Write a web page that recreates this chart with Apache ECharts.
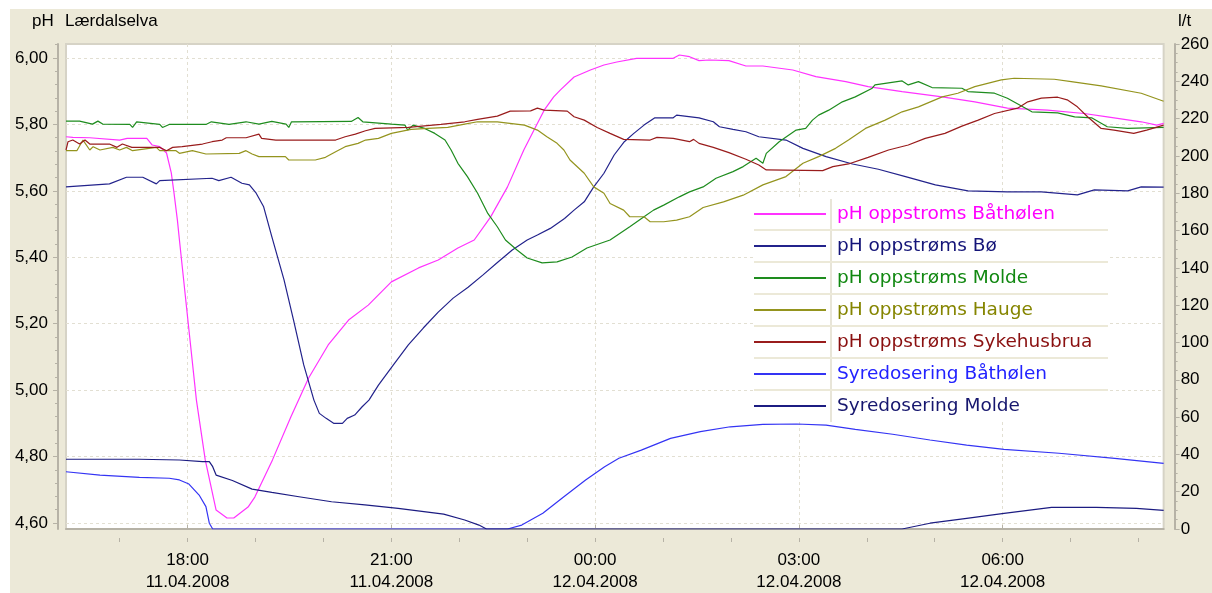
<!DOCTYPE html>
<html>
<head>
<meta charset="utf-8">
<script src="https://cdn.jsdelivr.net/npm/echarts@6/dist/echarts.min.js"></script>
<style>
html, body { margin: 0; padding: 0; background: #fff; }
#main { width: 1212px; height: 593px; }
</style>
</head>
<body>
<div id="main"></div>
<script>
var chart = echarts.init(document.getElementById('main'));

// time in hours from 11.04.2008 00:00
var xMin = 16.21
var xMax = 32.37
var xLabelHours = [18, 21, 24, 27, 30]
var xLabelTexts = ['18:00\n11.04.2008', '21:00\n11.04.2008', '00:00\n12.04.2008', '03:00\n12.04.2008', '06:00\n12.04.2008']
var xHourTicks = [17, 18, 19, 20, 21, 22, 23, 24, 25, 26, 27, 28, 29, 30, 31, 32]

var phTicks = [4.6, 4.8, 5.0, 5.2, 5.4, 5.6, 5.8, 6.0]
var flowMax = 260

var names = ['pH oppstroms Båthølen', 'pH oppstrøms Bø', 'pH oppstrøms Molde', 'pH oppstrøms Hauge',
    'pH oppstrøms Sykehusbrua', 'Syredosering Båthølen', 'Syredosering Molde']
var lineColors = ['#ff33ff', '#23238c', '#1e8c1e', '#94941e', '#991c1c', '#3434f4', '#1c1c82']
var textColors = ['#ff00ff', '#141478', '#118811', '#858500', '#8a1010', '#2222ff', '#16166e']

var phBatholen = [
    [16.21, 5.763], [16.31, 5.761], [16.56, 5.760], [17.0, 5.753], [17.11, 5.758], [17.40, 5.758],
    [17.48, 5.738], [17.59, 5.733], [17.69, 5.714], [17.76, 5.654], [17.80, 5.594], [17.85, 5.512],
    [17.88, 5.452], [18.02, 5.181], [18.13, 4.970], [18.26, 4.790], [18.42, 4.639], [18.58, 4.615],
    [18.68, 4.615], [18.89, 4.648], [18.99, 4.678], [19.25, 4.790], [19.52, 4.919], [19.78, 5.036],
    [20.07, 5.136], [20.37, 5.211], [20.66, 5.256], [21.0, 5.326], [21.40, 5.368], [21.69, 5.392],
    [21.98, 5.428], [22.22, 5.452], [22.46, 5.521], [22.71, 5.612], [22.95, 5.723], [23.10, 5.783],
    [23.25, 5.843], [23.39, 5.883], [23.49, 5.904], [23.69, 5.943], [23.93, 5.964], [24.13, 5.979],
    [24.32, 5.988], [24.61, 5.999], [25.15, 5.999], [25.24, 6.009], [25.39, 6.004], [25.53, 5.992],
    [25.68, 5.994], [25.97, 5.992], [26.22, 5.976], [26.47, 5.976], [26.91, 5.964], [27.25, 5.944],
    [27.69, 5.929], [28.02, 5.914], [28.52, 5.899], [29.11, 5.883], [29.59, 5.868], [30.07, 5.849],
    [30.66, 5.843], [31.20, 5.833], [31.54, 5.823], [32.04, 5.808], [32.27, 5.798], [32.37, 5.803]
]

var phBo = [
    [16.21, 5.612], [16.85, 5.621], [17.10, 5.641], [17.34, 5.641], [17.54, 5.621], [17.59, 5.631],
    [18.36, 5.638], [18.46, 5.631], [18.64, 5.641], [18.80, 5.623], [18.91, 5.618], [19.01, 5.593],
    [19.12, 5.552], [19.24, 5.462], [19.42, 5.332], [19.56, 5.211], [19.71, 5.076], [19.86, 4.970],
    [19.94, 4.930], [20.04, 4.915], [20.15, 4.900], [20.28, 4.900], [20.35, 4.915], [20.46, 4.925],
    [20.57, 4.950], [20.67, 4.970], [20.81, 5.015], [21.03, 5.076], [21.25, 5.136], [21.47, 5.187],
    [21.69, 5.235], [21.91, 5.277], [22.13, 5.310], [22.35, 5.347], [22.57, 5.386], [22.78, 5.422],
    [23.0, 5.452], [23.15, 5.467], [23.34, 5.487], [23.55, 5.517], [23.69, 5.542], [23.84, 5.567],
    [23.98, 5.612], [24.13, 5.653], [24.28, 5.708], [24.43, 5.748], [24.57, 5.773], [24.72, 5.798],
    [24.88, 5.820], [25.15, 5.820], [25.20, 5.828], [25.53, 5.820], [25.74, 5.808], [25.83, 5.793],
    [26.03, 5.785], [26.22, 5.778], [26.41, 5.763], [26.81, 5.753], [27.06, 5.728], [27.40, 5.703],
    [27.79, 5.681], [28.17, 5.665], [28.57, 5.643], [29.01, 5.618], [29.49, 5.600], [30.07, 5.597],
    [30.57, 5.597], [31.10, 5.588], [31.35, 5.603], [31.84, 5.600], [32.04, 5.612], [32.37, 5.611]
]

var phMolde = [
    [16.21, 5.810], [16.41, 5.810], [16.60, 5.801], [16.68, 5.810], [16.75, 5.801], [17.15, 5.800],
    [17.19, 5.791], [17.25, 5.808], [17.59, 5.800], [17.63, 5.791], [17.73, 5.800], [18.27, 5.800],
    [18.35, 5.808], [18.61, 5.800], [18.86, 5.808], [19.05, 5.801], [19.24, 5.809], [19.45, 5.801],
    [19.49, 5.791], [19.53, 5.808], [20.41, 5.809], [20.51, 5.821], [20.58, 5.808], [21.0, 5.801],
    [21.20, 5.798], [21.24, 5.783], [21.32, 5.798], [21.49, 5.788], [21.64, 5.773], [21.79, 5.753],
    [21.88, 5.723], [21.98, 5.683], [22.12, 5.643], [22.27, 5.593], [22.42, 5.532], [22.56, 5.492],
    [22.68, 5.452], [22.85, 5.422], [23.0, 5.398], [23.22, 5.383], [23.44, 5.386], [23.66, 5.401],
    [23.88, 5.428], [24.22, 5.452], [24.51, 5.492], [24.72, 5.522], [24.86, 5.542], [25.01, 5.557],
    [25.24, 5.582], [25.39, 5.597], [25.59, 5.612], [25.78, 5.638], [26.03, 5.658], [26.18, 5.673],
    [26.37, 5.698], [26.47, 5.683], [26.52, 5.713], [26.71, 5.748], [26.96, 5.783], [27.10, 5.788],
    [27.20, 5.813], [27.29, 5.828], [27.44, 5.843], [27.64, 5.868], [27.83, 5.883], [28.08, 5.909],
    [28.12, 5.919], [28.52, 5.931], [28.61, 5.919], [28.76, 5.929], [28.96, 5.911], [29.40, 5.909],
    [29.49, 5.899], [29.88, 5.894], [30.07, 5.879], [30.43, 5.838], [30.81, 5.835], [31.06, 5.823],
    [31.31, 5.820], [31.54, 5.793], [31.84, 5.788], [32.37, 5.791]
]

var phHauge = [
    [16.21, 5.721], [16.37, 5.721], [16.46, 5.753], [16.56, 5.723], [16.61, 5.733], [16.71, 5.723],
    [16.90, 5.731], [17.0, 5.723], [17.10, 5.731], [17.19, 5.721], [17.54, 5.731], [17.59, 5.721],
    [17.83, 5.721], [17.88, 5.713], [18.07, 5.721], [18.27, 5.711], [18.76, 5.713], [18.86, 5.721],
    [18.95, 5.711], [19.05, 5.703], [19.44, 5.703], [19.49, 5.693], [19.88, 5.693], [20.03, 5.701],
    [20.18, 5.718], [20.32, 5.733], [20.51, 5.743], [20.62, 5.753], [20.81, 5.758], [21.0, 5.773],
    [21.29, 5.785], [21.54, 5.788], [21.83, 5.791], [22.08, 5.801], [22.27, 5.808], [22.56, 5.808],
    [22.96, 5.798], [23.15, 5.783], [23.29, 5.763], [23.44, 5.743], [23.54, 5.723], [23.63, 5.693],
    [23.84, 5.653], [23.98, 5.612], [24.13, 5.593], [24.22, 5.562], [24.42, 5.542], [24.51, 5.522],
    [24.72, 5.522], [24.81, 5.507], [25.01, 5.507], [25.20, 5.512], [25.39, 5.522], [25.59, 5.550],
    [25.89, 5.567], [26.18, 5.587], [26.47, 5.618], [26.81, 5.643], [27.06, 5.683], [27.29, 5.703],
    [27.54, 5.728], [27.73, 5.753], [27.98, 5.788], [28.27, 5.813], [28.52, 5.838], [28.76, 5.853],
    [29.11, 5.883], [29.34, 5.894], [29.59, 5.914], [29.98, 5.934], [30.17, 5.939], [30.76, 5.936],
    [31.01, 5.929], [31.45, 5.916], [32.04, 5.894], [32.37, 5.870]
]

var phSykehusbrua = [
    [16.21, 5.723], [16.24, 5.748], [16.31, 5.753], [16.41, 5.741], [16.49, 5.753], [16.56, 5.741],
    [16.85, 5.741], [16.96, 5.731], [17.04, 5.741], [17.18, 5.731], [17.59, 5.731], [17.69, 5.721],
    [17.78, 5.731], [17.92, 5.733], [18.22, 5.741], [18.36, 5.748], [18.51, 5.753], [18.57, 5.760],
    [18.86, 5.760], [19.05, 5.771], [19.09, 5.758], [19.30, 5.753], [20.18, 5.753], [20.32, 5.763],
    [20.47, 5.771], [20.62, 5.781], [20.76, 5.788], [21.25, 5.791], [21.73, 5.800], [22.08, 5.808],
    [22.27, 5.815], [22.56, 5.825], [22.75, 5.840], [23.05, 5.841], [23.15, 5.849], [23.25, 5.843],
    [23.59, 5.840], [23.69, 5.823], [23.84, 5.813], [24.03, 5.791], [24.22, 5.773], [24.42, 5.755],
    [24.81, 5.753], [24.91, 5.761], [25.15, 5.758], [25.39, 5.748], [25.45, 5.755], [25.53, 5.743],
    [25.74, 5.731], [25.97, 5.715], [26.22, 5.695], [26.41, 5.678], [26.52, 5.663], [27.35, 5.661],
    [27.50, 5.673], [27.73, 5.681], [28.02, 5.701], [28.32, 5.723], [28.61, 5.738], [28.86, 5.758],
    [29.15, 5.773], [29.40, 5.795], [29.64, 5.813], [29.88, 5.833], [30.22, 5.849], [30.37, 5.868],
    [30.57, 5.879], [30.81, 5.882], [30.95, 5.874], [31.10, 5.853], [31.25, 5.823], [31.45, 5.788],
    [31.64, 5.783], [31.93, 5.773], [32.12, 5.783], [32.37, 5.798]
]

var doseBatholen = [
    [16.21, 30.7], [16.71, 28.9], [17.29, 27.7], [17.73, 27.2], [17.88, 26.3], [18.02, 24.1],
    [18.17, 18.2], [18.27, 12.0], [18.32, 3.1], [18.37, 0], [22.71, 0], [22.92, 2.1],
    [23.23, 8.4], [23.54, 17.3], [23.86, 26.3], [24.14, 33.4], [24.35, 37.9], [24.68, 42.3],
    [25.11, 48.6], [25.55, 52.2], [25.99, 54.8], [26.47, 56.1], [26.97, 56.3], [27.40, 55.7],
    [27.83, 53.4], [28.38, 50.8], [28.93, 47.7], [29.47, 45.0], [30.02, 42.7], [30.83, 40.6],
    [31.65, 37.9], [32.37, 35.2]
]

var doseMolde = [
    [16.21, 37.4], [17.29, 37.4], [17.88, 37.0], [18.22, 36.1], [18.32, 36.1], [18.37, 33.4],
    [18.42, 28.9], [18.66, 26.0], [18.95, 21.4], [19.24, 19.6], [19.64, 17.3], [20.12, 14.6],
    [20.61, 12.9], [21.10, 11.1], [21.77, 8.0], [22.08, 4.8], [22.29, 2.1], [22.40, 0],
    [28.52, 0], [28.93, 3.1], [29.47, 5.7], [30.02, 8.4], [30.72, 11.6], [31.38, 11.6],
    [31.97, 11.1], [32.37, 10.0]
]

var seriesData = [phBatholen, phBo, phMolde, phHauge, phSykehusbrua, doseBatholen, doseMolde]

// small ticks on the pH axis, every 0,04
var phMinorTicks = []
for (var k = 0; k <= 36; k++) {
    phMinorTicks.push(Math.round((4.6 + k * 0.04) * 100) / 100)
}

var font = 'Liberation Sans'
var axisGrey = '#b6b2a6'
var gridDash = '#e2dfd2'

var series = seriesData.map(function(d, i) {
    return {
        name: names[i],
        type: 'line',
        xAxisIndex: 0,
        yAxisIndex: i < 5 ? 0 : 2,
        symbol: 'none',
        animation: false,
        lineStyle: {
            color: lineColors[i],
            width: 1.2
        },
        itemStyle: {
            color: lineColors[i]
        },
        data: d
    }
})

var legendData = names.map(function(n, i) {
    return {
        name: n,
        textStyle: {
            color: textColors[i]
        }
    }
})

var sepY = [230, 262, 294, 326, 358, 390]
var legendGraphics = [{
    type: 'rect',
    shape: { x: 10, y: 9, width: 1202, height: 584 },
    style: { fill: '#ece9d8' },
    z: -10,
    silent: true
}, {
    type: 'rect',
    shape: { x: 754, y: 199, width: 354, height: 223 },
    style: { fill: '#fff' },
    z: 3,
    silent: true
}, {
    type: 'line',
    shape: { x1: 831, y1: 199, x2: 831, y2: 422 },
    style: { stroke: '#e8e5d8', lineWidth: 2 },
    z: 3,
    silent: true
}]
sepY.forEach(function(y) {
    legendGraphics.push({
        type: 'line',
        shape: { x1: 754, y1: y, x2: 1108, y2: y },
        style: { stroke: '#ece9d8', lineWidth: 2 },
        z: 3,
        silent: true
    })
})

chart.setOption({
    backgroundColor: '#fff',
    animation: false,
    title: [{
        text: 'pH',
        left: 32,
        top: 13,
        padding: 0,
        textStyle: { fontFamily: font, fontSize: 17, fontWeight: 'normal', color: '#000' }
    }, {
        text: 'Lærdalselva',
        left: 65,
        top: 13,
        padding: 0,
        textStyle: { fontFamily: font, fontSize: 17, fontWeight: 'normal', color: '#000' }
    }, {
        text: 'l/t',
        left: 1178,
        top: 13,
        padding: 0,
        textStyle: { fontFamily: font, fontSize: 17, fontWeight: 'normal', color: '#000' }
    }],
    graphic: legendGraphics,
    legend: {
        orient: 'vertical',
        left: 754,
        top: 204,
        padding: 0,
        icon: 'rect',
        itemWidth: 72,
        itemHeight: 2,
        itemGap: 12,
        selectedMode: false,
        z: 10,
        textStyle: {
            fontFamily: 'DejaVu Sans',
            fontSize: 18.5,
            lineHeight: 20,
            padding: [0, 0, 0, 6]
        },
        data: legendData
    },
    grid: {
        left: 66,
        right: 42,
        top: 44,
        bottom: 64,
        show: true,
        backgroundColor: '#fff',
        borderColor: '#d6d3c6',
        borderWidth: 2
    },
    xAxis: [{
        type: 'value',
        min: xMin,
        max: xMax,
        position: 'bottom',
        offset: 13,
        axisLine: { show: true, lineStyle: { color: axisGrey, width: 2 } },
        axisTick: { show: true, inside: true, length: 4, customValues: xLabelHours, lineStyle: { color: axisGrey } },
        axisLabel: {
            customValues: xLabelHours,
            formatter: function(v) {
                var i = xLabelHours.indexOf(Math.round(v))
                return i >= 0 ? xLabelTexts[i] : ''
            },
            color: '#000',
            fontFamily: font,
            fontSize: 17,
            lineHeight: 22,
            margin: 7
        },
        splitLine: { show: true, lineStyle: { type: [3, 3], color: gridDash } }
    }, {
        type: 'value',
        min: xMin,
        max: xMax,
        position: 'bottom',
        offset: 13,
        axisLine: { show: false },
        axisTick: { show: true, inside: true, length: 4, customValues: xHourTicks, lineStyle: { color: axisGrey } },
        axisLabel: { show: false },
        splitLine: { show: false }
    }],
    yAxis: [{
        type: 'value',
        min: 4.5819,
        max: 6.0422,
        position: 'left',
        offset: 8,
        axisLine: { show: true, lineStyle: { color: axisGrey, width: 2 } },
        axisTick: { show: true, length: 5, customValues: phTicks, lineStyle: { color: axisGrey } },
        axisLabel: {
            customValues: phTicks,
            formatter: function(v) {
                return v.toFixed(2).replace('.', ',')
            },
            color: '#000',
            fontFamily: font,
            fontSize: 17,
            margin: 10
        },
        splitLine: { show: true, lineStyle: { type: [3, 3], color: gridDash } }
    }, {
        type: 'value',
        min: 4.5819,
        max: 6.0422,
        position: 'left',
        offset: 8,
        axisLine: { show: false },
        axisTick: { show: true, length: 3, customValues: phMinorTicks, lineStyle: { color: axisGrey } },
        axisLabel: { show: false },
        splitLine: { show: false }
    }, {
        type: 'value',
        min: 0,
        max: flowMax,
        interval: 20,
        position: 'right',
        offset: 11,
        axisLine: { show: true, lineStyle: { color: axisGrey, width: 2 } },
        axisTick: { show: true, length: 5, lineStyle: { color: axisGrey } },
        minorTick: { show: true, splitNumber: 4, length: 3, lineStyle: { color: axisGrey } },
        axisLabel: { color: '#000', fontFamily: font, fontSize: 17, margin: 6 },
        splitLine: { show: false }
    }],
    series: series
});
</script>
</body>
</html>
